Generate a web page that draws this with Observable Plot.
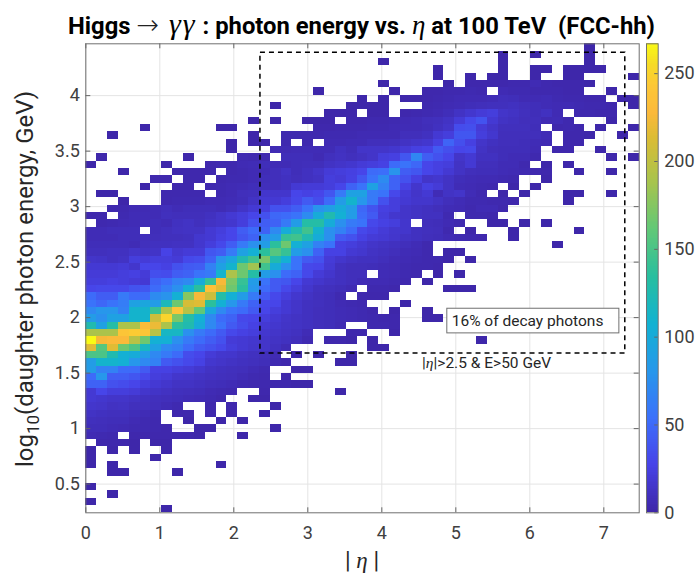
<!DOCTYPE html>
<html>
<head>
<meta charset="utf-8">
<script src="https://cdn.jsdelivr.net/npm/d3@7"></script>
<script src="https://cdn.jsdelivr.net/npm/@observablehq/plot@0.6"></script>
<style>
html,body{margin:0;padding:0;background:#fff;}
#page{position:relative;width:698px;height:576px;overflow:hidden;font-family:Roboto,sans-serif;color:#262626;}
#page svg{position:absolute;top:0;}
.lbl{position:absolute;white-space:nowrap;}
.m{font-family:"Liberation Serif",serif;font-style:italic;font-weight:normal;}
.u{font-family:"DejaVu Sans",sans-serif;font-weight:200;color:#222;}
</style>
</head>
<body>
<div id="page">
<div class="lbl" id="title" style="left:68px;top:12px;font-weight:700;font-size:23.8px;line-height:28px;color:#000;">Higgs <span class="u" style="font-size:27px;line-height:0;">&#8594;</span> <span class="m" style="font-size:30px;line-height:0;letter-spacing:2px;margin-left:4px;">&#947;&#947;</span> : photon energy vs. <span class="m" style="font-size:27px;line-height:0;">&#951;</span> at 100 TeV&nbsp; (FCC-hh)</div>
<div class="lbl" id="ylab" style="left:25px;top:279px;font-size:24px;color:#262626;transform:translate(-50%,-50%) rotate(-90deg);">log<sub style="font-size:17px;line-height:0;">10</sub>(daughter photon energy, GeV)</div>
<div class="lbl" id="xlab" style="left:362px;top:560px;font-size:23px;transform:translate(-50%,-50%);color:#262626;">| <span class="m">&#951;</span> |</div>
<div class="lbl" id="note" style="left:422px;top:354px;font-size:15.5px;color:#262626;">|<span class="m">&#951;</span>|&gt;2.5 &amp; E&gt;50 GeV</div>
</div>
<script>
// Histogram counts: one entry per row of bins (top row first); each run is [firstColumn, value, value, ...]
const counts = [
[[46,1]],
[[38,1],[41,1],[46,1]],
[[27,1],[38,1],[46,1]],
[[32,1],[38,1],[41,1,1],[44,1,1,1,1]],
[[32,1],[35,1],[37,1,1],[41,1],[44,1,1],[50,1]],
[[27,1],[33,1],[35,2,2,2,2,3,3,5,3,2,2,2,1]],
[[21,1],[28,1],[31,2,2,3,3,4,3],[38,5,4,4,3,3,3,2,2],[48,1]],
[[25,1],[27,1],[29,1,1,2,3,4,5,5,5,6,8,7,5,5,6,4,3,3,2,2],[49,1,1]],
[[17,1],[24,1,1,1,1],[31,3,4,5,6,7,8,9,9,10,8,7,6,5,5,4,3,3,2],[50,1]],
[[22,1,1,1],[26,1,1],[29,2,3,4,5,7,12,16,20,22,14,12,9,7,10,5],[45,3,3,2,2]],
[[15,1],[17,1],[20,1,1,1],[24,2,2,3,3,4,5,6,8,9,12,20,30,36,18,12,10,8,8,5,6,3],[48,1]],
[[5,1],[12,1,1],[21,2,2,3,3,3,4,4,5,6,6,7,10,14,32,34,20,14,9,9,9,7],[43,2,3,2],[47,1],[50,1]],
[[2,1],[15,1],[18,3,3,3,3,4,4,4,5,5,5,5,8,8,10,18,22,38,38,22,16,8,8,8,8,6],[44,2,2,1],[49,1]],
[[13,1],[15,1,1],[18,3],[20,3],[22,5,5,6,6,8,8,9,12,14,16,24,46,34,24,14,10,8,8,7,6,5],[44,2,2]],
[[13,1],[17,5,5,6,6,6,6,10,7,14,14,14,16,20,24,26,40,34,28,30,12,8,7,7,7,5],[43,2,2],[47,1]],
[[1,1],[9,1],[14,4,3,3],[18,7,7,7,5,9,11,9,11,14,22,24,38,68,42,35,28,14,18,10,10,7,6,6,3],[48,1],[50,1]],
[[0,1],[7,1],[11,2,3,3,5,6,7,6,6,7,8,8,12,14,16,20,22,25,50,55,48,28,24,22,12,18,8,8,6,6,3],[42,1],[44,1]],
[[3,1],[8,2,2,2,2],[13,3,4,5,6,8,12,7,10,14,20,22,24,28,50,52,78,42,38,28,24,18,12,8,7,7,6,5,4,3,2],[45,1],[48,1]],
[[6,2,2],[9,2,2],[12,3,4,4,5,7,8,10,8,10,12,22,20,25,38,55,72,45,35,24,14,16,12,7,6,5,5,4,3],[42,1]],
[[5,1],[8,2,2],[11,3,4,5,6,7,8,8,10,18,20,20,22,28,45,55,90,65,45,25,15,24,20,12,6,5,4,3],[39,1],[41,1]],
[[1,1,1],[7,3,3,3,3],[12,4,5,8,9,15,15,15,28,25,28,38,60,90,90,60,55,30,20,14,18,6,12,14,6,3],[38,1],[40,1],[44,1,1],[48,1]],
[[3,1],[7,3,4,4,4,5,5,6,7,12,18,18,22,30,40,32,50,85,110,80,60,35,22,18,15,15,12,8,6,4,4,3,3,2],[44,1]],
[[2,3,3,5,5,6,8,6,7,7,7,6,8,13,18,22,35,35,42,55,78,88,100,85,48,36,24,22,14,12,10,8,6,5,3,5,5,2]],
[[0,2,2],[3,4,6,6,6,9,8,8,8,10,14,18,22,28,35,48,50,55,72,100,125,105,85,50,40,22,16,14,12,10,10,4],[35,3,3,2]],
[[1,3,4,5,6,6,7,6,10,12,9,12,14,16,22,35,42,45,60,85,130,130,100,75,60,55,30,25,22,15],[31,8,7,5,3],[37,1,1],[40,1],[42,1]],
[[0,6,6,7,7,7],[6,7,9,11,12,12,18,22,28,42,50,45,70,100,125,145,110,75,65,50,30,25,20,16,15,10,9,8,3],[35,1],[39,1],[45,1]],
[[0,6,6,6,7,7,8,8,9,9,10,16,18,24,28,38,45,75,85,140,145,125,100,75,40,35,25,20,18,15,12,10,8,7,5,4,3,2],[39,1]],
[[0,7,7,7,7,6,9,10,10,11,11,16,22,30,42,60,75,85,135,165,105,90,65,55,25,22,18,14,12,10,8,6,3],[43,1]],
[[0,9,9,10,10,14,12,13,26,17,20,20,38,42,60,90,105,135,155,140,85,75,45,25,25,18,16,12,10,8,6,5,3],[33,1,1]],
[[0,14,13,10,12,22,20,22,22,20,30,32,45,78,95,125,145,170,125,105,55,40,35,20,15,12,10,10,8,6,5,4,3,3,1],[35,1]],
[[0,18,18,18,20,15,28,28,25,35,40,42,65,90,110,165,185,145,100,75,55,30,28,18,10,8,8,7,6,5,4,3,3,2]],
[[0,20,20,20,22,24,20,34,32,42,45,55,60,110,190,165,130,85,75,50,45,30,20,15,10,8,8],[27,6,5,4,3],[32,1],[34,1]],
[[0,22,22,24,22,20,18,45,52,65,70,100,140,225,170,140,85,55,40,38,28,18,15,12,10,8,6,5,5,4,3],[31,1]],
[[0,28,30,30,30,36,38,50,62,75,105,135,235,215,165,135,80,50,40,30,22,15,10,9,7,5],[26,3,3,2],[33,1,1,1]],
[[0,50,42,42,60,50,50,72,78,105,175,225,205,130,105,85,60,40,30,22,16,12,9,7,4],[25,3,2,2]],
[[0,55,48,55,62,90,95,85,120,165,210,215,135,105,80,60,45,30,28,18,14,10,9,7,5,4,3],[29,1]],
[[0,70,80,80,65,110,110,140,190,240,195,160,95,70,55,50,40,28,22,18,14,10,8,7,6,5,4,2],[28,1],[31,1]],
[[0,85,75,90,90,110,110,205,250,170,130,105,70,50,45,30,28,22,18,14,12,10,8,7,6,5,4,3,2,2],[31,1,1]],
[[0,125,90,130,190,190,230,220,190,135,125,100,70,55,40,32,25,18,16,13,12,10,8,7,5],[26,3,3,2]],
[[0,190,190,190,240,245,240,195,115,115,75,60,50,40,30,25,22,16,14,12,10,6],[24,2,2],[28,1]],
[[0,267,225,228,228,195,165,105,105,75,60,50,42,35,20,18,16,14,12,10,8,4],[22,2,2,1],[26,1],[36,1]],
[[0,215,155,215,165,150,115,90,70,65,50,40,35,30,22,18,15,14,10,6],[26,1,1]],
[[0,150,150,125,105,100,85,70,60,50,32,28,20,16,15,12,10,8,5],[19,1],[21,1],[24,1]],
[[0,85,110,110,105,80,70,65,40,35,30,25,16,14,12,10,9,7,4,2],[23,1,1]],
[[0,85,65,65,50,50,40,25,25,22,20,16,12,10,9,8,6,4],[19,1,1]],
[[0,50,80,42,42,38,30,22,20,15,14,12,10,9,8,6,4,3],[18,1]],
[[0,45,45,35,32,28,22,18,15,12,12,10,8,7,6,4,3,3,2,2,1,1]],
[[0,18,28,22,22,20,15,13,11,9,8,7,5,4,3],[16,2],[23,1]],
[[0,18,16,14,14,12,10,9,8,7,6,5,4,2],[15,1,1]],
[[0,15,14,11,12,9,9,8,6,4],[11,2],[13,2],[17,1]],
[[0,12,10,9,9,7,6,4],[8,2,2],[11,2],[13,2],[16,1]],
[[0,9,8,7,7,5,4,3],[9,1],[12,1],[14,1]],
[[0,7,7,6,5,4,4,3,2],[10,1,1],[17,1]],
[[0,5,4,3],[4,2,2,2,2,2,2,1],[14,1]],
[[1,2,2,2,1],[6,1,1]],
[[0,1],[2,1],[4,1],[7,1]],
[[0,1],[6,1]],
[[0,1],[2,1],[12,1]],
[[2,1,1],[8,1]],
[],
[[0,1]],
[[2,1]],
[[0,1]],
[[7,1]]
];
const etaDomain = [0, 7.478];
const logEDomain = [0.2415, 4.467];
const nCols = 51, nRows = 64;
const xTicks = [0,1,2,3,4,5,6,7];
const yTicks = [0.5,1,1.5,2,2.5,3,3.5,4];
const barTicks = [0,50,100,150,200,250];
const barMax = 267;
const colorValues = [0,27,53,80,107,133,160,187,213,227,243,255,267];
const colorStops = ["#3e26a8","#4743e8","#3c70fb","#2797eb","#12b2d2","#27bea0","#60c878","#a6c44e","#dcbc34","#fbb93a","#fcc836","#f6dc26","#f9fb15"];
const dashedBox = {x1:2.36, x2:7.29, y1:1.676, y2:4.387};
const noteBox = {x1:4.885, x2:7.21, y1:1.858, y2:2.08};
const noteText = "16% of decay photons";

const colW = (etaDomain[1]-etaDomain[0])/nCols;
const rowH = (logEDomain[1]-logEDomain[0])/nRows;
const cells = counts.flatMap((runs,r)=>runs.flatMap(run=>run.slice(1).map((v,i)=>({
  x1: (run[0]+i)*colW, x2:(run[0]+i+1)*colW,
  y2: logEDomain[1]-r*rowH, y1: logEDomain[1]-(r+1)*rowH, v}))));

const colorOpt = {type:"linear", domain:colorValues, range:colorStops, interpolate:d3.interpolateRgb};
const W=698,H=576,mL=85.3,mR=59.3,mT=43.3,mB=63.7;
const tickLenX = 5/((H-mT-mB)/(logEDomain[1]-logEDomain[0]));
const tickLenY = 5/((W-mL-mR)/(etaDomain[1]-etaDomain[0]));
const tickCol="#666";

const main = Plot.plot({
  width:W,height:H,marginLeft:mL,marginRight:mR,marginTop:mT,marginBottom:mB,
  style:{fontFamily:"Roboto",fontSize:"18px",color:"#404040",background:"transparent"},
  x:{domain:etaDomain,label:null},
  y:{domain:logEDomain,label:null},
  color:colorOpt,
  marks:[
    Plot.gridX(xTicks,{stroke:"#e4e4e4",strokeOpacity:1}),
    Plot.gridY(yTicks,{stroke:"#e4e4e4",strokeOpacity:1}),
    Plot.rect(cells,{x1:"x1",x2:"x2",y1:"y1",y2:"y2",fill:"v",inset:0,shapeRendering:"crispEdges"}),
    Plot.ruleX(xTicks,{y1:logEDomain[0],y2:logEDomain[0]+tickLenX,stroke:tickCol}),
    Plot.ruleX(xTicks,{y1:logEDomain[1],y2:logEDomain[1]-tickLenX,stroke:tickCol}),
    Plot.ruleY(yTicks,{x1:etaDomain[0],x2:etaDomain[0]+tickLenY,stroke:tickCol}),
    Plot.ruleY(yTicks,{x1:etaDomain[1],x2:etaDomain[1]-tickLenY,stroke:tickCol}),
    Plot.frame({stroke:"#707070",strokeWidth:1}),
    Plot.axisX(xTicks,{tickSize:0,tickPadding:13,label:null,fontSize:18,tickFormat:d=>String(d)}),
    Plot.axisY(yTicks,{tickSize:0,tickPadding:6,label:null,fontSize:18,tickFormat:d=>String(d)}),
    Plot.rect([dashedBox],{x1:"x1",x2:"x2",y1:"y1",y2:"y2",fill:"none",stroke:"#000",strokeWidth:1.5,strokeDasharray:"5,4"}),
    Plot.rect([noteBox],{x1:"x1",x2:"x2",y1:"y1",y2:"y2",fill:"#fff",stroke:"#707070",strokeWidth:1}),
    Plot.text([noteText],{x:()=>noteBox.x1+0.06,y:()=>(noteBox.y1+noteBox.y2)/2,text:d=>d,textAnchor:"start",fontSize:15.5,fill:"#262626"})
  ]
});

const barL=640;
const bar = Plot.plot({
  width:58,height:H,marginLeft:6,marginRight:40.3,marginTop:mT,marginBottom:mB,
  style:{fontFamily:"Roboto",fontSize:"18px",color:"#404040",background:"transparent"},
  x:{domain:[0,1],axis:null},
  y:{domain:[0,barMax],label:null},
  color:colorOpt,
  marks:[
    Plot.rect(d3.range(0,barMax),{x1:0,x2:1,y1:d=>d,y2:d=>d+1,fill:d=>d,inset:0,shapeRendering:"crispEdges"}),
    Plot.ruleY(barTicks,{x1:0.7,x2:1,stroke:tickCol}),
    Plot.frame({stroke:"#707070",strokeWidth:1}),
    Plot.axisY(barTicks,{anchor:"right",tickSize:0,tickPadding:6,label:null,fontSize:18,tickFormat:d=>String(d)})
  ]
});
bar.style.left=barL+"px";
const page=document.getElementById("page");
main.style.left="0px";
page.insertBefore(main,page.firstChild);
page.insertBefore(bar,main.nextSibling);
</script>
</body>
</html>
